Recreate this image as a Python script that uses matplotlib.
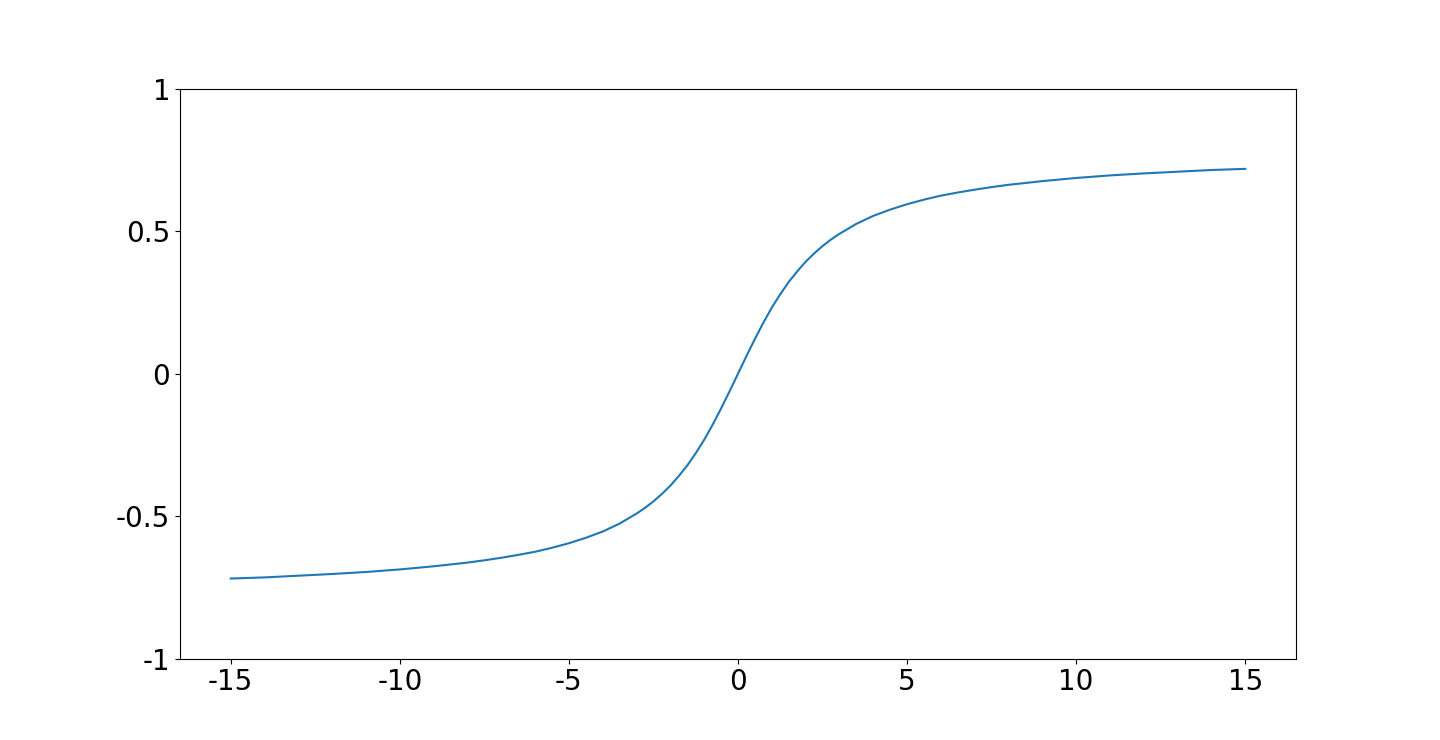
import matplotlib
matplotlib.use("Agg")
import matplotlib.pyplot as plt

# values (right half; the curve is odd-symmetric)
x_pos = [0.0, 0.25, 0.5, 0.75, 1.0, 1.25, 1.5, 1.75, 2.0, 2.25, 2.5, 2.75,
         3.0, 3.5, 4.0, 4.5, 5.0, 5.5, 6.0, 6.5, 7.0, 7.5, 8.0,
         9.0, 10.0, 11.0, 12.0, 13.0, 14.0, 15.0]
y_pos = [0.0, 0.062, 0.122, 0.179, 0.232, 0.279, 0.322, 0.359, 0.393, 0.422, 0.448, 0.471,
         0.491, 0.526, 0.554, 0.576, 0.595, 0.611, 0.625, 0.636, 0.646, 0.655, 0.663,
         0.676, 0.687, 0.696, 0.703, 0.709, 0.715, 0.719]

x_vals = [-v for v in x_pos[:0:-1]] + x_pos
y_vals = [-v for v in y_pos[:0:-1]] + y_pos

x_ticks = [-15, -10, -5, 0, 5, 10, 15]
x_tick_labels = ["-15", "-10", "-5", "0", "5", "10", "15"]
y_ticks = [-1, -0.5, 0, 0.5, 1]
y_tick_labels = ["-1", "-0.5", "0", "0.5", "1"]

fig, ax = plt.subplots(figsize=(14.4, 7.4), dpi=100)
ax.plot(x_vals, y_vals, color="#1f77b4", linewidth=1.5)
ax.set_ylim(-1, 1)
ax.set_xticks(x_ticks)
ax.set_xticklabels(x_tick_labels, fontsize=20)
ax.set_yticks(y_ticks)
ax.set_yticklabels(y_tick_labels, fontsize=20)
fig.savefig("out.png", dpi=100)
plt.close(fig)
